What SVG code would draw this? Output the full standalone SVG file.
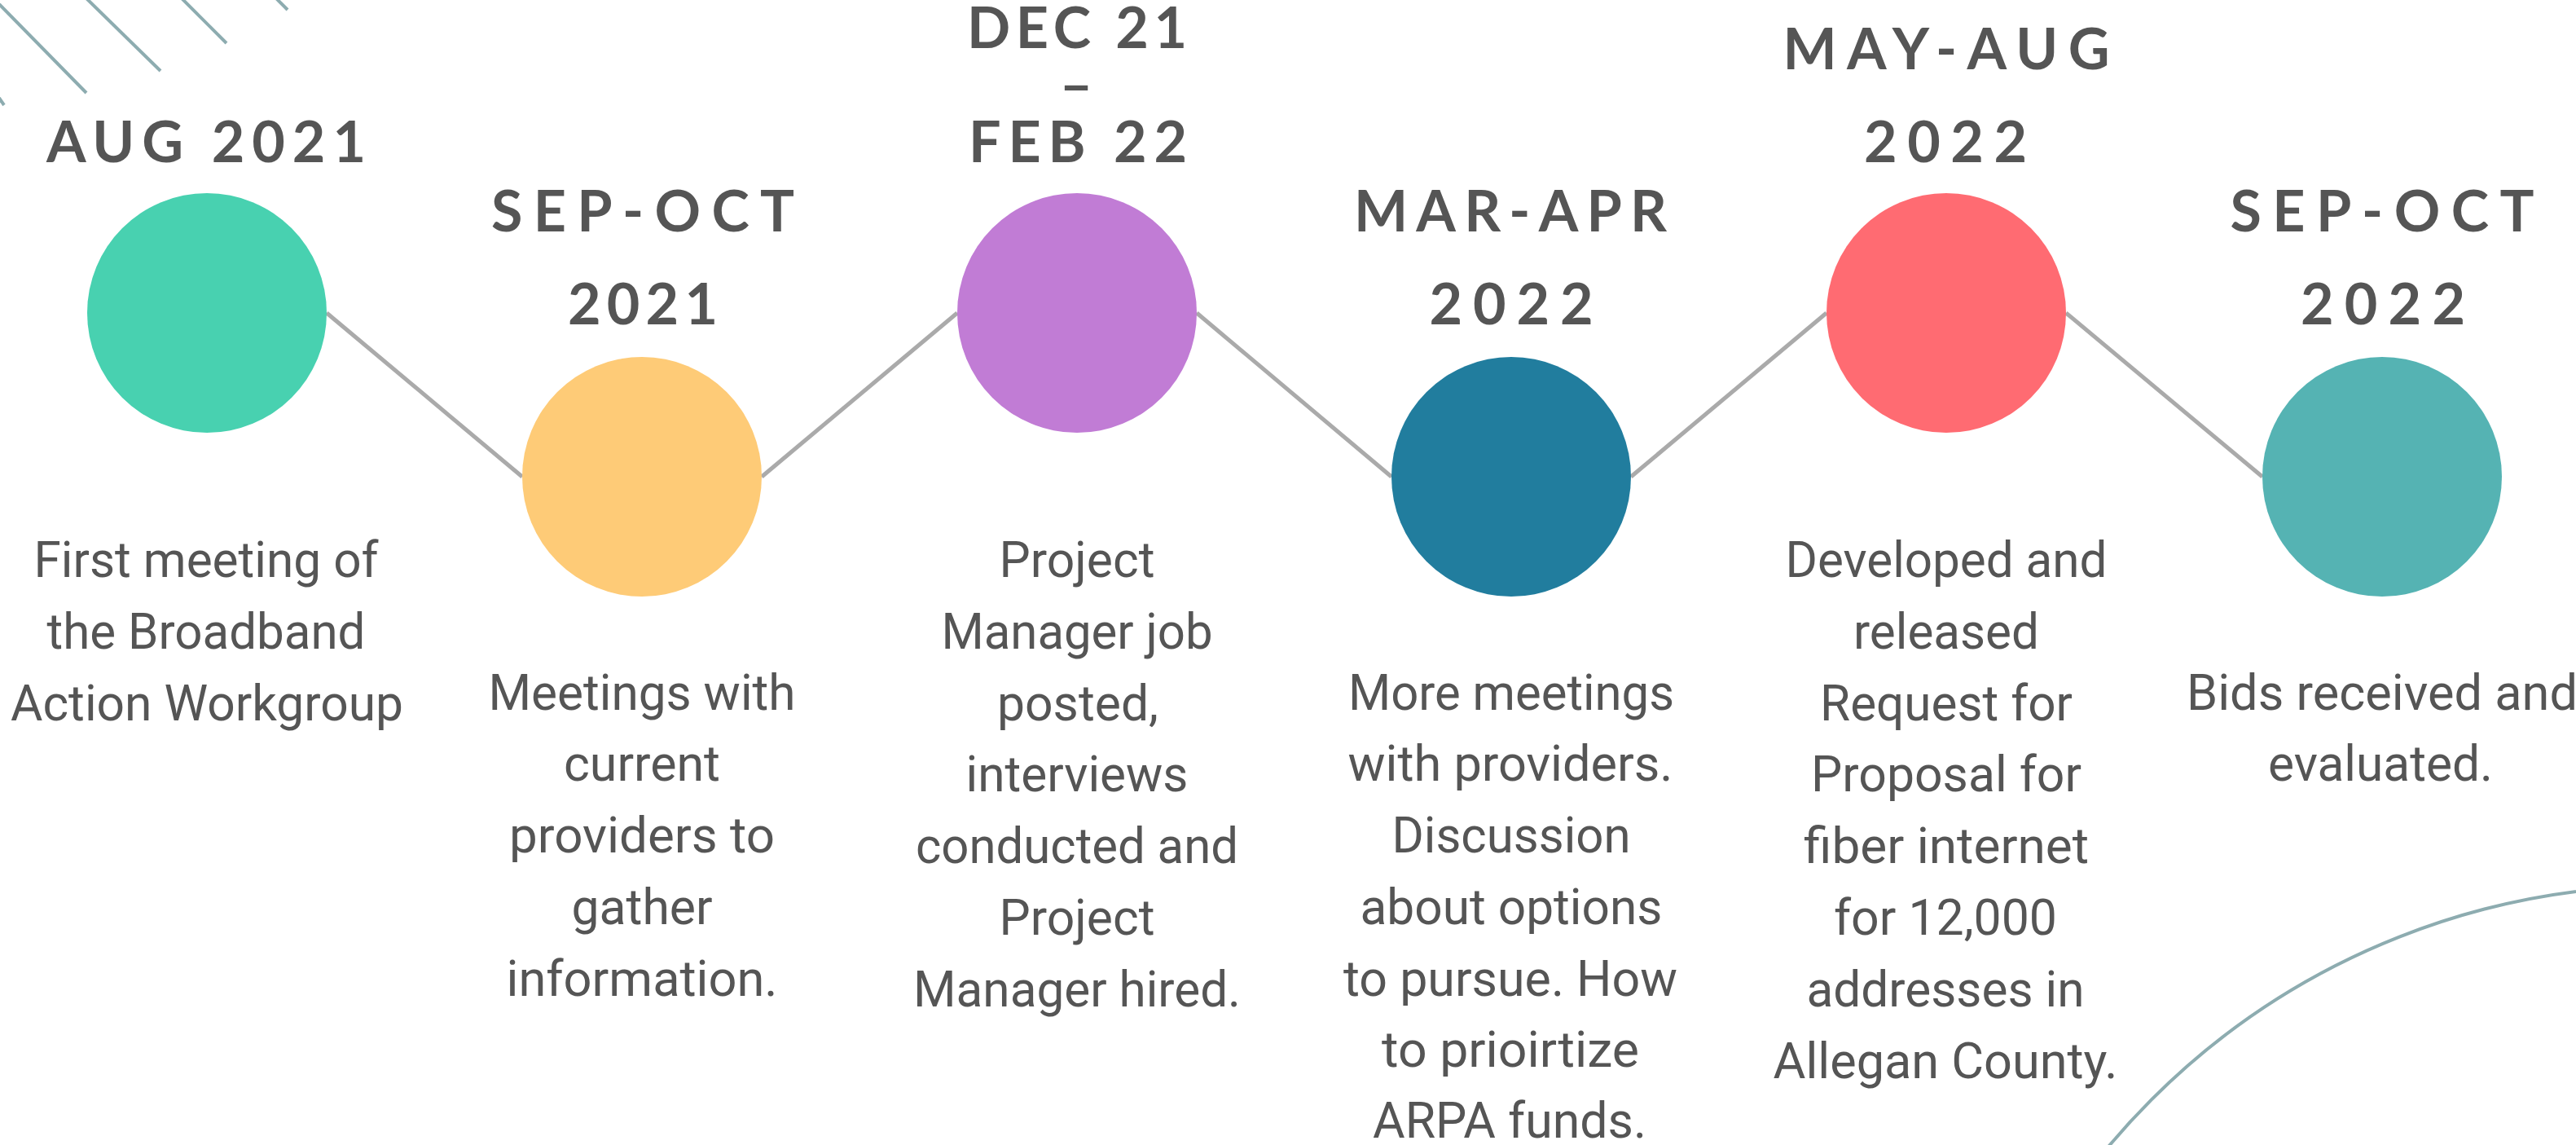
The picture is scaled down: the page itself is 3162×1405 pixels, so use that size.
<svg xmlns="http://www.w3.org/2000/svg" width="3162" height="1405" viewBox="0 0 3162 1405">
<style>
.hd{font-family:Lato,"Open Sans","Liberation Sans",sans-serif;font-weight:700;font-size:70px;fill:#555555;text-anchor:middle}
.bd{font-family:Roboto,"Liberation Sans",sans-serif;font-weight:400;font-size:62px;fill:#555555;text-anchor:middle}
.deco{stroke:#8dacb0;stroke-width:4;fill:none}
.conn{stroke:#aaaaaa;stroke-width:5;fill:none}
</style>
<rect width="3162" height="1405" fill="#ffffff"/>
<g id="decorations">
<line class="deco" x1="-2" y1="4" x2="106" y2="114"/>
<line class="deco" x1="106" y1="-2" x2="197" y2="87"/>
<line class="deco" x1="223" y1="-2" x2="278" y2="53"/>
<line class="deco" x1="339" y1="-2" x2="353" y2="12"/>
<line class="deco" x1="-2" y1="119" x2="5" y2="129"/>
<circle class="deco" cx="3274" cy="1982" r="895" stroke-width="5"/>
</g>
<g id="connectors">
<line class="conn" x1="401" y1="384" x2="641" y2="585"/>
<line class="conn" x1="935" y1="585" x2="1175" y2="384"/>
<line class="conn" x1="1469" y1="384" x2="1708" y2="585"/>
<line class="conn" x1="2002" y1="585" x2="2242" y2="384"/>
<line class="conn" x1="2536" y1="384" x2="2777" y2="585"/>
</g>
<g id="node1">
<circle cx="254" cy="384" r="147" fill="#48d1b0"/>
<text class="hd" x="253" y="199" textLength="392" lengthAdjust="spacing">AUG 2021</text>
<text class="bd" x="253" y="708" textLength="423" lengthAdjust="spacingAndGlyphs">First meeting of</text>
<text class="bd" x="253" y="796" textLength="391" lengthAdjust="spacingAndGlyphs">the Broadband</text>
<text class="bd" x="254" y="884" textLength="482" lengthAdjust="spacingAndGlyphs">Action Workgroup</text>
</g>
<g id="node2">
<circle cx="788" cy="585" r="147" fill="#fecb77"/>
<text class="hd" x="789" y="284" textLength="372" lengthAdjust="spacing">SEP-OCT</text>
<text class="hd" x="789" y="398" textLength="184" lengthAdjust="spacing">2021</text>
<text class="bd" x="788" y="871" textLength="377" lengthAdjust="spacingAndGlyphs">Meetings with</text>
<text class="bd" x="788" y="958" textLength="192" lengthAdjust="spacingAndGlyphs">current</text>
<text class="bd" x="788" y="1046" textLength="326" lengthAdjust="spacingAndGlyphs">providers to</text>
<text class="bd" x="788" y="1134" textLength="173" lengthAdjust="spacingAndGlyphs">gather</text>
<text class="bd" x="788" y="1222" textLength="333" lengthAdjust="spacingAndGlyphs">information.</text>
</g>
<g id="node3">
<circle cx="1322" cy="384" r="147" fill="#c17cd5"/>
<text class="hd" x="1322" y="59" textLength="270" lengthAdjust="spacing">DEC 21</text>
<text class="hd" x="1321" y="129">–</text>
<text class="hd" x="1323" y="199" textLength="268" lengthAdjust="spacing">FEB 22</text>
<text class="bd" x="1322" y="708" textLength="191" lengthAdjust="spacingAndGlyphs">Project</text>
<text class="bd" x="1322" y="796" textLength="333" lengthAdjust="spacingAndGlyphs">Manager job</text>
<text class="bd" x="1323" y="884" textLength="198" lengthAdjust="spacingAndGlyphs">posted,</text>
<text class="bd" x="1322" y="971" textLength="273" lengthAdjust="spacingAndGlyphs">interviews</text>
<text class="bd" x="1322" y="1059" textLength="396" lengthAdjust="spacingAndGlyphs">conducted and</text>
<text class="bd" x="1322" y="1147" textLength="191" lengthAdjust="spacingAndGlyphs">Project</text>
<text class="bd" x="1322" y="1235" textLength="402" lengthAdjust="spacingAndGlyphs">Manager hired.</text>
</g>
<g id="node4">
<circle cx="1855" cy="585" r="147" fill="#217d9e"/>
<text class="hd" x="1854" y="284" textLength="384" lengthAdjust="spacing">MAR-APR</text>
<text class="hd" x="1855" y="398" textLength="201" lengthAdjust="spacing">2022</text>
<text class="bd" x="1855" y="871" textLength="400" lengthAdjust="spacingAndGlyphs">More meetings</text>
<text class="bd" x="1854" y="958" textLength="399" lengthAdjust="spacingAndGlyphs">with providers.</text>
<text class="bd" x="1855" y="1046" textLength="293" lengthAdjust="spacingAndGlyphs">Discussion</text>
<text class="bd" x="1855" y="1134" textLength="371" lengthAdjust="spacingAndGlyphs">about options</text>
<text class="bd" x="1854" y="1222" textLength="410" lengthAdjust="spacingAndGlyphs">to pursue. How</text>
<text class="bd" x="1854" y="1309" textLength="316" lengthAdjust="spacingAndGlyphs">to prioirtize</text>
<text class="bd" x="1853" y="1396" textLength="336" lengthAdjust="spacingAndGlyphs">ARPA funds.</text>
</g>
<g id="node5">
<circle cx="2389" cy="384" r="147" fill="#ff6b72"/>
<text class="hd" x="2389" y="85" textLength="401" lengthAdjust="spacing">MAY-AUG</text>
<text class="hd" x="2388" y="199" textLength="200" lengthAdjust="spacing">2022</text>
<text class="bd" x="2389" y="708" textLength="395" lengthAdjust="spacingAndGlyphs">Developed and</text>
<text class="bd" x="2389" y="796" textLength="228" lengthAdjust="spacingAndGlyphs">released</text>
<text class="bd" x="2389" y="884" textLength="310" lengthAdjust="spacingAndGlyphs">Request for</text>
<text class="bd" x="2389" y="971" textLength="332" lengthAdjust="spacingAndGlyphs">Proposal for</text>
<text class="bd" x="2389" y="1059" textLength="350" lengthAdjust="spacingAndGlyphs">fiber internet</text>
<text class="bd" x="2388" y="1147" textLength="274" lengthAdjust="spacingAndGlyphs">for 12,000</text>
<text class="bd" x="2388" y="1235" textLength="341" lengthAdjust="spacingAndGlyphs">addresses in</text>
<text class="bd" x="2388" y="1323" textLength="423" lengthAdjust="spacingAndGlyphs">Allegan County.</text>
</g>
<g id="node6">
<circle cx="2924" cy="585" r="147" fill="#55b3b3"/>
<text class="hd" x="2924" y="284" textLength="373" lengthAdjust="spacing">SEP-OCT</text>
<text class="hd" x="2925" y="398" textLength="202" lengthAdjust="spacing">2022</text>
<text class="bd" x="2924" y="871" textLength="480" lengthAdjust="spacingAndGlyphs">Bids received and</text>
<text class="bd" x="2922" y="958" textLength="276" lengthAdjust="spacingAndGlyphs">evaluated.</text>
</g>
</svg>
